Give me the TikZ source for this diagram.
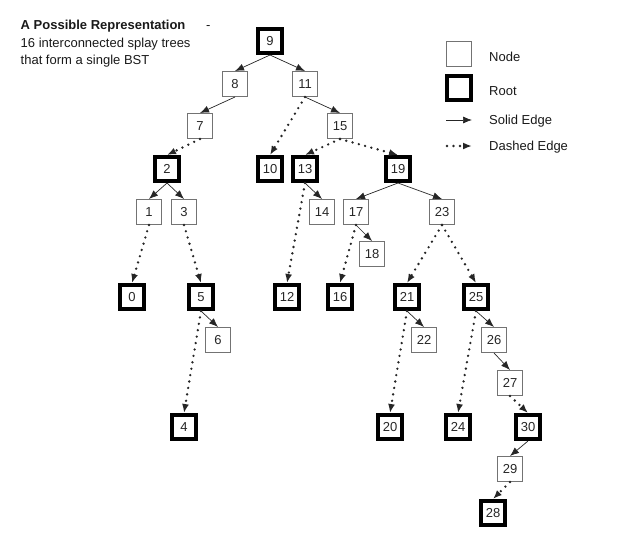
\documentclass[tikz,border=0pt]{standalone}
\usepackage{fontspec}
\setmainfont{Liberation Sans}
\usetikzlibrary{arrows.meta}

\begin{document}
\begin{tikzpicture}[x=1pt,y=-1pt,>={Latex[length=9pt,width=7pt]},
        font=\fontsize{13}{15}\selectfont,
        nd/.style={draw=black!55, line width=0.8pt, minimum size=25.2pt, inner sep=0pt, text=black!85},
        rt/.style={draw=black, line width=4pt, minimum size=24pt, inner sep=0pt, text=black!85},
        sedge/.style={->, line width=0.7pt, black!85},
        dedge/.style={->, line width=2.6pt, line cap=round, dash pattern=on 0pt off 6.5pt, black!85},
        txt/.style={anchor=base west, inner sep=0pt, text=black!90}]

        \useasboundingbox (0,0) rectangle (642,551);

        % title
        \node[txt] (title) at (20.5,30) {\textbf{A Possible Representation}};
        \node[txt] (dash) at (206,30) {-};
        \node[txt] (sub1) at (20.5,48) {16 interconnected splay trees};
        \node[txt] (sub2) at (20.5,65) {that form a single BST};

        % plain nodes
        \foreach \n/\x/\y in {8/235/84, 11/305/84, 7/200/126, 15/340/126, 1/149/212, 3/184/212,
                14/322/212, 17/356/212, 23/442/212, 18/372/254, 6/218/340, 22/424/340,
                26/494/340, 27/510/383, 29/510/469}
            \node[nd] (n\n) at (\x,\y) {\n};

        % roots
        \foreach \n/\x/\y in {9/270/41, 2/167/169, 10/270/169, 13/305/169, 19/398/169,
                0/132/297, 5/201/297, 12/287/297, 16/340/297, 21/407/297, 25/476/297,
                4/184/427, 20/390/427, 24/458/427, 30/528/427, 28/493/513}
            \node[rt] (n\n) at (\x,\y) {\n};

        % solid edges
        \foreach \a/\b in {9/8, 9/11, 8/7, 11/15, 2/1, 2/3, 13/14, 19/17, 19/23, 17/18,
                5/6, 21/22, 25/26, 26/27, 30/29}
            \draw[sedge] (n\a.south) -- (n\b.north);

        % dashed edges
        \foreach \a/\b in {7/2, 11/10, 15/13, 15/19, 1/0, 3/5, 13/12, 17/16, 23/21, 23/25,
                5/4, 21/20, 25/24, 27/30, 29/28}
            \draw[dedge] (n\a.south) -- (n\b.north);

        % legend
        \node[nd] (lnode) at (459,54) {};
        \node[rt] (lroot) at (459,88) {};
        \coordinate (ls1) at (446,120);
        \coordinate (ls2) at (472,120);
        \coordinate (ld1) at (447,146);
        \coordinate (ld2) at (472,146);
        \draw[sedge] (ls1) -- (ls2);
        \draw[dedge] (ld1) -- (ld2);
        \node[txt] (tnode) at (489,61) {Node};
        \node[txt] (troot) at (489,95) {Root};
        \node[txt] (tsolid) at (489,124) {Solid Edge};
        \node[txt] (tdash) at (489,150) {Dashed Edge};

    \end{tikzpicture}
\end{document}
